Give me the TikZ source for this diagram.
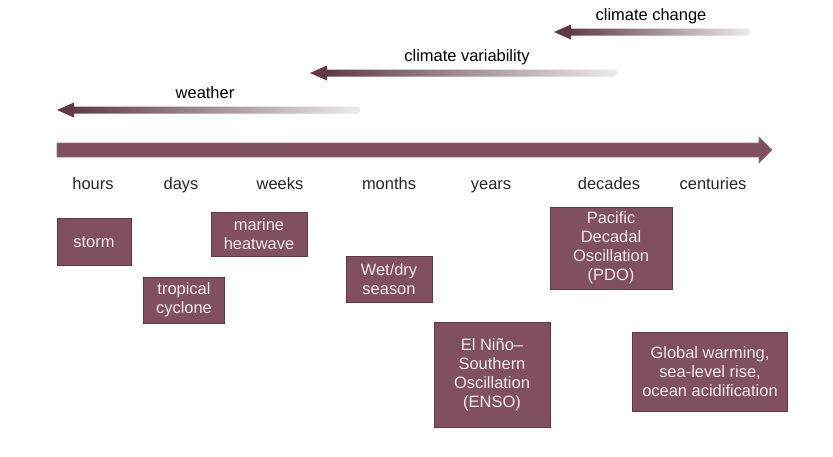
\documentclass[tikz,border=0pt]{standalone}
\usepackage{fontspec}
\setmainfont{Liberation Sans}
\usetikzlibrary{arrows.meta,positioning}
\definecolor{mauve}{RGB}{128,80,96}
\definecolor{mauvedark}{RGB}{96,56,70}
\definecolor{boxtext}{RGB}{238,234,236}

\begin{document}
\begin{tikzpicture}[
    x=0.025cm, y=-0.025cm,
    font=\fontsize{11.7}{13.5}\selectfont,
    scalelabel/.style={text=black!85,anchor=base},
    event/.style={draw=mauvedark,fill=mauve,text=boxtext,align=center,inner sep=0pt,line width=0.6pt},
    band/.style={left color=mauvedark,middle color=mauve!45!white,right color=black!8,draw=none},
    head/.style={fill=mauvedark,draw=none}
]
\path[use as bounding box,fill=white] (0,0) rectangle (833,456);

% time-scale bands, fading towards the long end
\foreach \nm/\xa/\xb/\y/\txt/\tx in {weather/57/360/110/weather/205,
        vari/310/617/73/climate variability/467,
        change/554/750/32/climate change/651} {
    \shade[band,rounded corners=2pt] (\xa+12,\y-3.5) rectangle (\xb,\y+3.5);
    \fill[head] (\xa,\y) -- (\xa+17,\y-7.5) -- (\xa+17,\y+7.5) -- cycle;
    \node[scalelabel,text=black] (\nm) at (\tx,\y-12) {\txt};
}

% main time axis
\fill[mauve,draw=mauvedark!70,line width=0.4pt]
    (57,143) -- (759,143) -- (759,137) -- (772,150) -- (759,163)
    -- (759,157) -- (57,157) -- cycle;
\foreach \x/\lab in {93/hours,181/days,280/weeks,389/months,491/years,
        609/decades,713/centuries}
    \node[scalelabel] (s\lab) at (\x,189) {\lab};

% phenomena
\node[event,minimum width=1.85cm,minimum height=1.175cm] (storm) at (94,242) {storm};
\node[event,minimum width=2.4cm,minimum height=1.1cm] (heat) at (259,234) {marine\\heatwave};
\node[event,minimum width=2.025cm,minimum height=1.15cm] (cyclone) at (184,300) {tropical\\cyclone};
\node[event,minimum width=2.15cm,minimum height=1.15cm] (season) at (389,279) {Wet/dry\\season};
\node[event,minimum width=3.05cm,minimum height=2.05cm] (pdo) at (611,248)
    {Pacific\\Decadal\\Oscillation\\(PDO)};
\node[event,minimum width=2.9cm,minimum height=2.625cm] (enso) at (492,375)
    {El Niño–\\Southern\\Oscillation\\(ENSO)};
\node[event,minimum width=3.875cm,minimum height=1.975cm] (global) at (710,372)
    {Global warming,\\sea-level rise,\\ocean acidification};
\end{tikzpicture}
\end{document}
